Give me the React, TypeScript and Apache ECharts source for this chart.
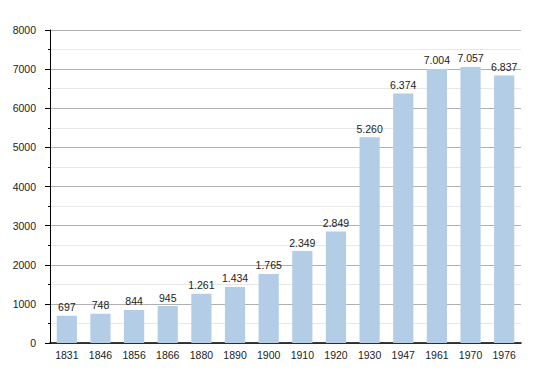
import React, { useEffect, useRef } from "react";
import * as echarts from "echarts";

const years = ["1831", "1846", "1856", "1866", "1880", "1890", "1900", "1910", "1920", "1930", "1947", "1961", "1970", "1976"];
const population = [697, 748, 844, 945, 1261, 1434, 1765, 2349, 2849, 5260, 6374, 7004, 7057, 6837];

const fmt = (v: number) => String(v).replace(/\B(?=(\d{3})+(?!\d))/g, ".");

export default function App() {
  const ref = useRef<HTMLDivElement>(null);
  useEffect(() => {
    if (!ref.current) return;
    const chart = echarts.init(ref.current, undefined, { renderer: "svg" });
    const font = "'Liberation Sans', Arial, Helvetica, sans-serif";
    chart.setOption({
      animation: false,
      grid: { left: 50, right: 29, top: 30, bottom: 30, containLabel: false },
      xAxis: {
        type: "category",
        data: years,
        axisLine: { lineStyle: { color: "#000", width: 1.5 } },
        axisTick: { show: false },
        axisLabel: { color: "#222", fontSize: 10.5, fontFamily: font, margin: 6 },
      },
      yAxis: {
        type: "value",
        min: 0,
        max: 8000,
        interval: 1000,
        axisLine: { show: true, lineStyle: { color: "#000", width: 1 } },
        axisTick: { show: true, length: 5, lineStyle: { color: "#000" } },
        minorTick: { show: true, splitNumber: 2, length: 2, lineStyle: { color: "#000" } },
        splitLine: { show: true, lineStyle: { color: "#b0b0b0", width: 1 } },
        minorSplitLine: { show: true, lineStyle: { color: "#e8e8e8", width: 1 } },
        axisLabel: { color: "#222", fontSize: 10.5, fontFamily: font, margin: 14, formatter: (v: number) => String(v) },
      },
      series: [
        {
          type: "bar",
          data: population,
          barWidth: "60%",
          itemStyle: { color: "#b3cde6" },
          label: {
            show: true,
            position: "top",
            distance: 3,
            color: "#222",
            fontSize: 10.5,
            fontFamily: font,
            formatter: (p: any) => fmt(p.value),
          },
        },
      ],
    });
    return () => chart.dispose();
  }, []);
  return <div ref={ref} style={{ width: 550, height: 373, position: "absolute", left: 0, top: 0 }} />;
}
